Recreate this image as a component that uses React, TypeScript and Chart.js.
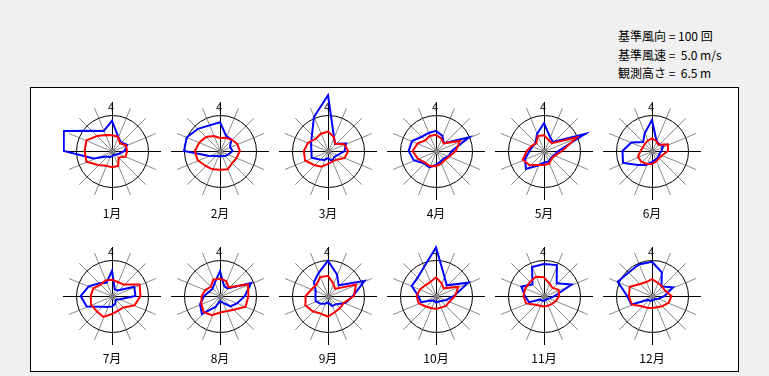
import React, { useEffect, useRef } from "react";
import Chart from "chart.js/auto";

const directions = ["北", "北北東", "北東", "東北東", "東", "東南東", "南東", "南南東", "南", "南南西", "南西", "西南西", "西", "西北西", "北西", "北北西"];
const months = ["1月", "2月", "3月", "4月", "5月", "6月", "7月", "8月", "9月", "10月", "11月", "12月"];

// 風向出現回数 (基準 100 回)
const frequency: number[][] = [
  [84, 44, 35, 45, 35, 20, 15, 12, 15, 18, 22, 55, 134, 145, 80, 60],
  [80, 45, 45, 30, 35, 25, 20, 15, 15, 15, 20, 35, 100, 100, 87, 77],
  [155, 43, 28, 54, 46, 29, 24, 31, 20, 27, 33, 49, 46, 51, 63, 102],
  [56, 46, 31, 100, 44, 38, 30, 32, 39, 49, 48, 67, 76, 72, 56, 54],
  [77, 43, 35, 123, 40, 30, 27, 32, 32, 44, 71, 57, 40, 34, 33, 51],
  [86, 32, 27, 33, 26, 22, 24, 26, 30, 42, 55, 87, 82, 62, 35, 53],
  [70, 20, 22, 67, 65, 23, 15, 23, 29, 33, 42, 76, 87, 70, 50, 40],
  [69, 30, 30, 94, 69, 52, 41, 20, 14, 33, 71, 60, 44, 32, 29, 39],
  [98, 65, 42, 110, 69, 52, 32, 30, 18, 23, 30, 37, 35, 37, 55, 69],
  [135, 60, 42, 97, 50, 30, 20, 17, 18, 14, 18, 45, 49, 73, 72, 87],
  [89, 93, 50, 83, 30, 17, 12, 12, 13, 14, 14, 45, 53, 68, 45, 87],
  [95, 71, 37, 63, 35, 20, 12, 12, 12, 15, 15, 62, 69, 103, 92, 95],
];

// 平均風速 m/s (基準 5.0 m/s)
const speed: number[][] = [
  [2.2, 2.15, 1.55, 2.1, 2.1, 2.05, 1.3, 2.25, 2.25, 2.2, 2.75, 3.85, 3.8, 3.85, 2.95, 2.4],
  [1.8, 2.0, 2.25, 2.6, 2.75, 2.5, 2.4, 2.75, 2.6, 2.75, 2.9, 3.35, 3.5, 3.1, 2.75, 2.25],
  [2.7, 2.1, 1.4, 2.45, 2.8, 2.5, 1.7, 1.6, 1.8, 2.35, 2.75, 3.45, 3.35, 3.0, 2.4, 2.6],
  [2.25, 1.9, 1.5, 3.6, 2.75, 2.0, 1.75, 1.9, 2.1, 2.25, 2.25, 2.75, 3.25, 2.75, 2.1, 2.25],
  [2.2, 1.65, 1.55, 4.95, 2.5, 1.65, 1.5, 1.9, 1.95, 2.1, 2.8, 3.2, 2.4, 1.85, 1.5, 2.25],
  [1.75, 1.5, 1.25, 2.4, 2.2, 1.55, 1.4, 1.55, 1.8, 1.95, 2.1, 2.1, 1.6, 1.35, 1.4, 1.55],
  [2.25, 2.1, 2.25, 4.15, 3.95, 3.4, 2.25, 2.2, 2.5, 3.15, 3.0, 3.15, 2.95, 2.8, 2.25, 2.35],
  [2.4, 2.25, 1.7, 4.2, 3.95, 3.85, 2.7, 2.3, 2.3, 2.9, 3.2, 2.8, 2.55, 2.2, 1.8, 2.45],
  [2.8, 1.9, 1.4, 4.2, 3.6, 2.4, 2.35, 2.45, 2.85, 2.65, 3.0, 3.4, 3.1, 2.45, 2.25, 2.85],
  [2.6, 1.95, 1.5, 3.35, 2.65, 2.05, 1.95, 1.75, 1.8, 1.8, 2.05, 2.6, 2.7, 2.4, 2.1, 2.1],
  [2.6, 1.9, 1.65, 2.2, 2.1, 1.8, 1.55, 1.45, 1.45, 1.45, 1.7, 2.7, 2.85, 2.8, 2.75, 2.9],
  [2.35, 2.0, 1.95, 1.95, 2.7, 2.5, 2.0, 1.7, 1.65, 1.75, 2.0, 3.05, 3.2, 3.35, 2.35, 2.1],
];

const REF_FREQ = 100;
const REF_SPEED = 5.0;
const infoLines = ["基準風向 = 100 回", "基準風速 =  5.0 m/s", "観測高さ =  6.5 m"];

const CW = 98;
const CH = 120;
const HALF = 49;
const RING = 36;
const FONT = '"Noto Sans CJK JP", "Noto Sans", sans-serif';

const rosePlugin = {
  id: "rose",
  beforeDatasetsDraw(chart: any) {
    const s = chart.scales.r;
    const ctx = chart.ctx;
    const cx = s.xCenter;
    const cy = s.yCenter;
    const n = directions.length;
    ctx.save();
    // gray spokes
    ctx.strokeStyle = "#8a8a8a";
    ctx.lineWidth = 1;
    for (let i = 0; i < n; i++) {
      if (i % 4 === 0) continue;
      const a = (i / n) * Math.PI * 2;
      ctx.beginPath();
      ctx.moveTo(cx + 0.5, cy + 0.5);
      ctx.lineTo(cx + 0.5 + Math.sin(a) * 47, cy + 0.5 - Math.cos(a) * 47);
      ctx.stroke();
    }
    // black cross
    ctx.strokeStyle = "#000";
    ctx.beginPath();
    ctx.moveTo(cx + 0.5, cy - 49);
    ctx.lineTo(cx + 0.5, cy + 49);
    ctx.moveTo(cx - 49, cy + 0.5);
    ctx.lineTo(cx + 49, cy + 0.5);
    ctx.stroke();
    // reference circle
    const rr = s.getDistanceFromCenterForValue(REF_FREQ);
    ctx.beginPath();
    ctx.arc(cx + 0.5, cy + 0.5, rr, 0, Math.PI * 2);
    ctx.stroke();
    // center dot
    ctx.fillStyle = "#808080";
    ctx.beginPath();
    ctx.arc(cx + 0.5, cy + 0.5, 3, 0, Math.PI * 2);
    ctx.fill();
    // north mark
    ctx.fillStyle = "#000";
    ctx.font = "11px " + FONT;
    ctx.textAlign = "center";
    ctx.textBaseline = "middle";
    ctx.fillText("4", cx - 1, cy - 44);
    ctx.restore();
  },
};

function Rose({ idx }: { idx: number }) {
  const ref = useRef<HTMLCanvasElement>(null);
  useEffect(() => {
    const scaleOpts = (max: number) => ({
      type: "radialLinear",
      display: true,
      min: 0,
      max,
      grid: { display: false },
      angleLines: { display: false },
      pointLabels: { display: false },
      ticks: { display: false },
    });
    const chart = new Chart(ref.current as HTMLCanvasElement, {
      type: "radar",
      data: {
        labels: directions,
        datasets: [
          {
            label: "風速",
            data: speed[idx],
            rAxisID: "rs",
            borderColor: "#ff0000",
            borderWidth: 2,
            pointRadius: 0,
            fill: false,
            order: 0,
          } as any,
          {
            label: "風向",
            data: frequency[idx],
            rAxisID: "r",
            borderColor: "#0000ff",
            borderWidth: 2,
            pointRadius: 0,
            fill: false,
            order: 1,
          } as any,
        ],
      },
      options: {
        responsive: false,
        animation: false,
        devicePixelRatio: 1,
        layout: { padding: 0 },
        elements: { line: { tension: 0, borderJoinStyle: "miter" } },
        plugins: { legend: { display: false }, tooltip: { enabled: false } },
        scales: {
          r: scaleOpts((REF_FREQ * HALF) / RING),
          rs: scaleOpts((REF_SPEED * HALF) / RING),
        } as any,
      },
      plugins: [rosePlugin],
    } as any);
    return () => chart.destroy();
  }, [idx]);
  return <canvas ref={ref} width={CW} height={CH} style={{ width: CW, height: CH, display: "block" }} />;
}

export default function App() {
  const colCenters = [112, 220, 328, 436, 544, 652];
  const rowCenters = [151, 296];
  return (
    <div
      style={{
        position: "absolute",
        left: 0,
        top: 0,
        width: 769,
        height: 376,
        background: "#f0f0f0",
        overflow: "hidden",
        fontFamily: FONT,
      }}
    >
      {infoLines.map((t, i) => (
        <div
          key={t}
          style={{
            position: "absolute",
            left: 618,
            top: [29, 48, 66][i],
            fontSize: 12,
            lineHeight: "14px",
            whiteSpace: "pre",
            color: "#000",
          }}
        >
          {t}
        </div>
      ))}
      <div
        style={{
          position: "absolute",
          left: 30,
          top: 87,
          width: 709,
          height: 285,
          boxSizing: "border-box",
          border: "1px solid #000",
          background: "#fff",
        }}
      />
      {months.map((m, i) => {
        const cx = colCenters[i % 6];
        const cy = rowCenters[Math.floor(i / 6)];
        return (
          <React.Fragment key={m}>
            <div style={{ position: "absolute", left: cx - HALF, top: cy - CH / 2 }}>
              <Rose idx={i} />
            </div>
            <div
              style={{
                position: "absolute",
                left: cx - 30,
                top: cy + 55,
                width: 60,
                textAlign: "center",
                fontSize: 12,
                lineHeight: "14px",
                color: "#000",
              }}
            >
              {m}
            </div>
          </React.Fragment>
        );
      })}
    </div>
  );
}
